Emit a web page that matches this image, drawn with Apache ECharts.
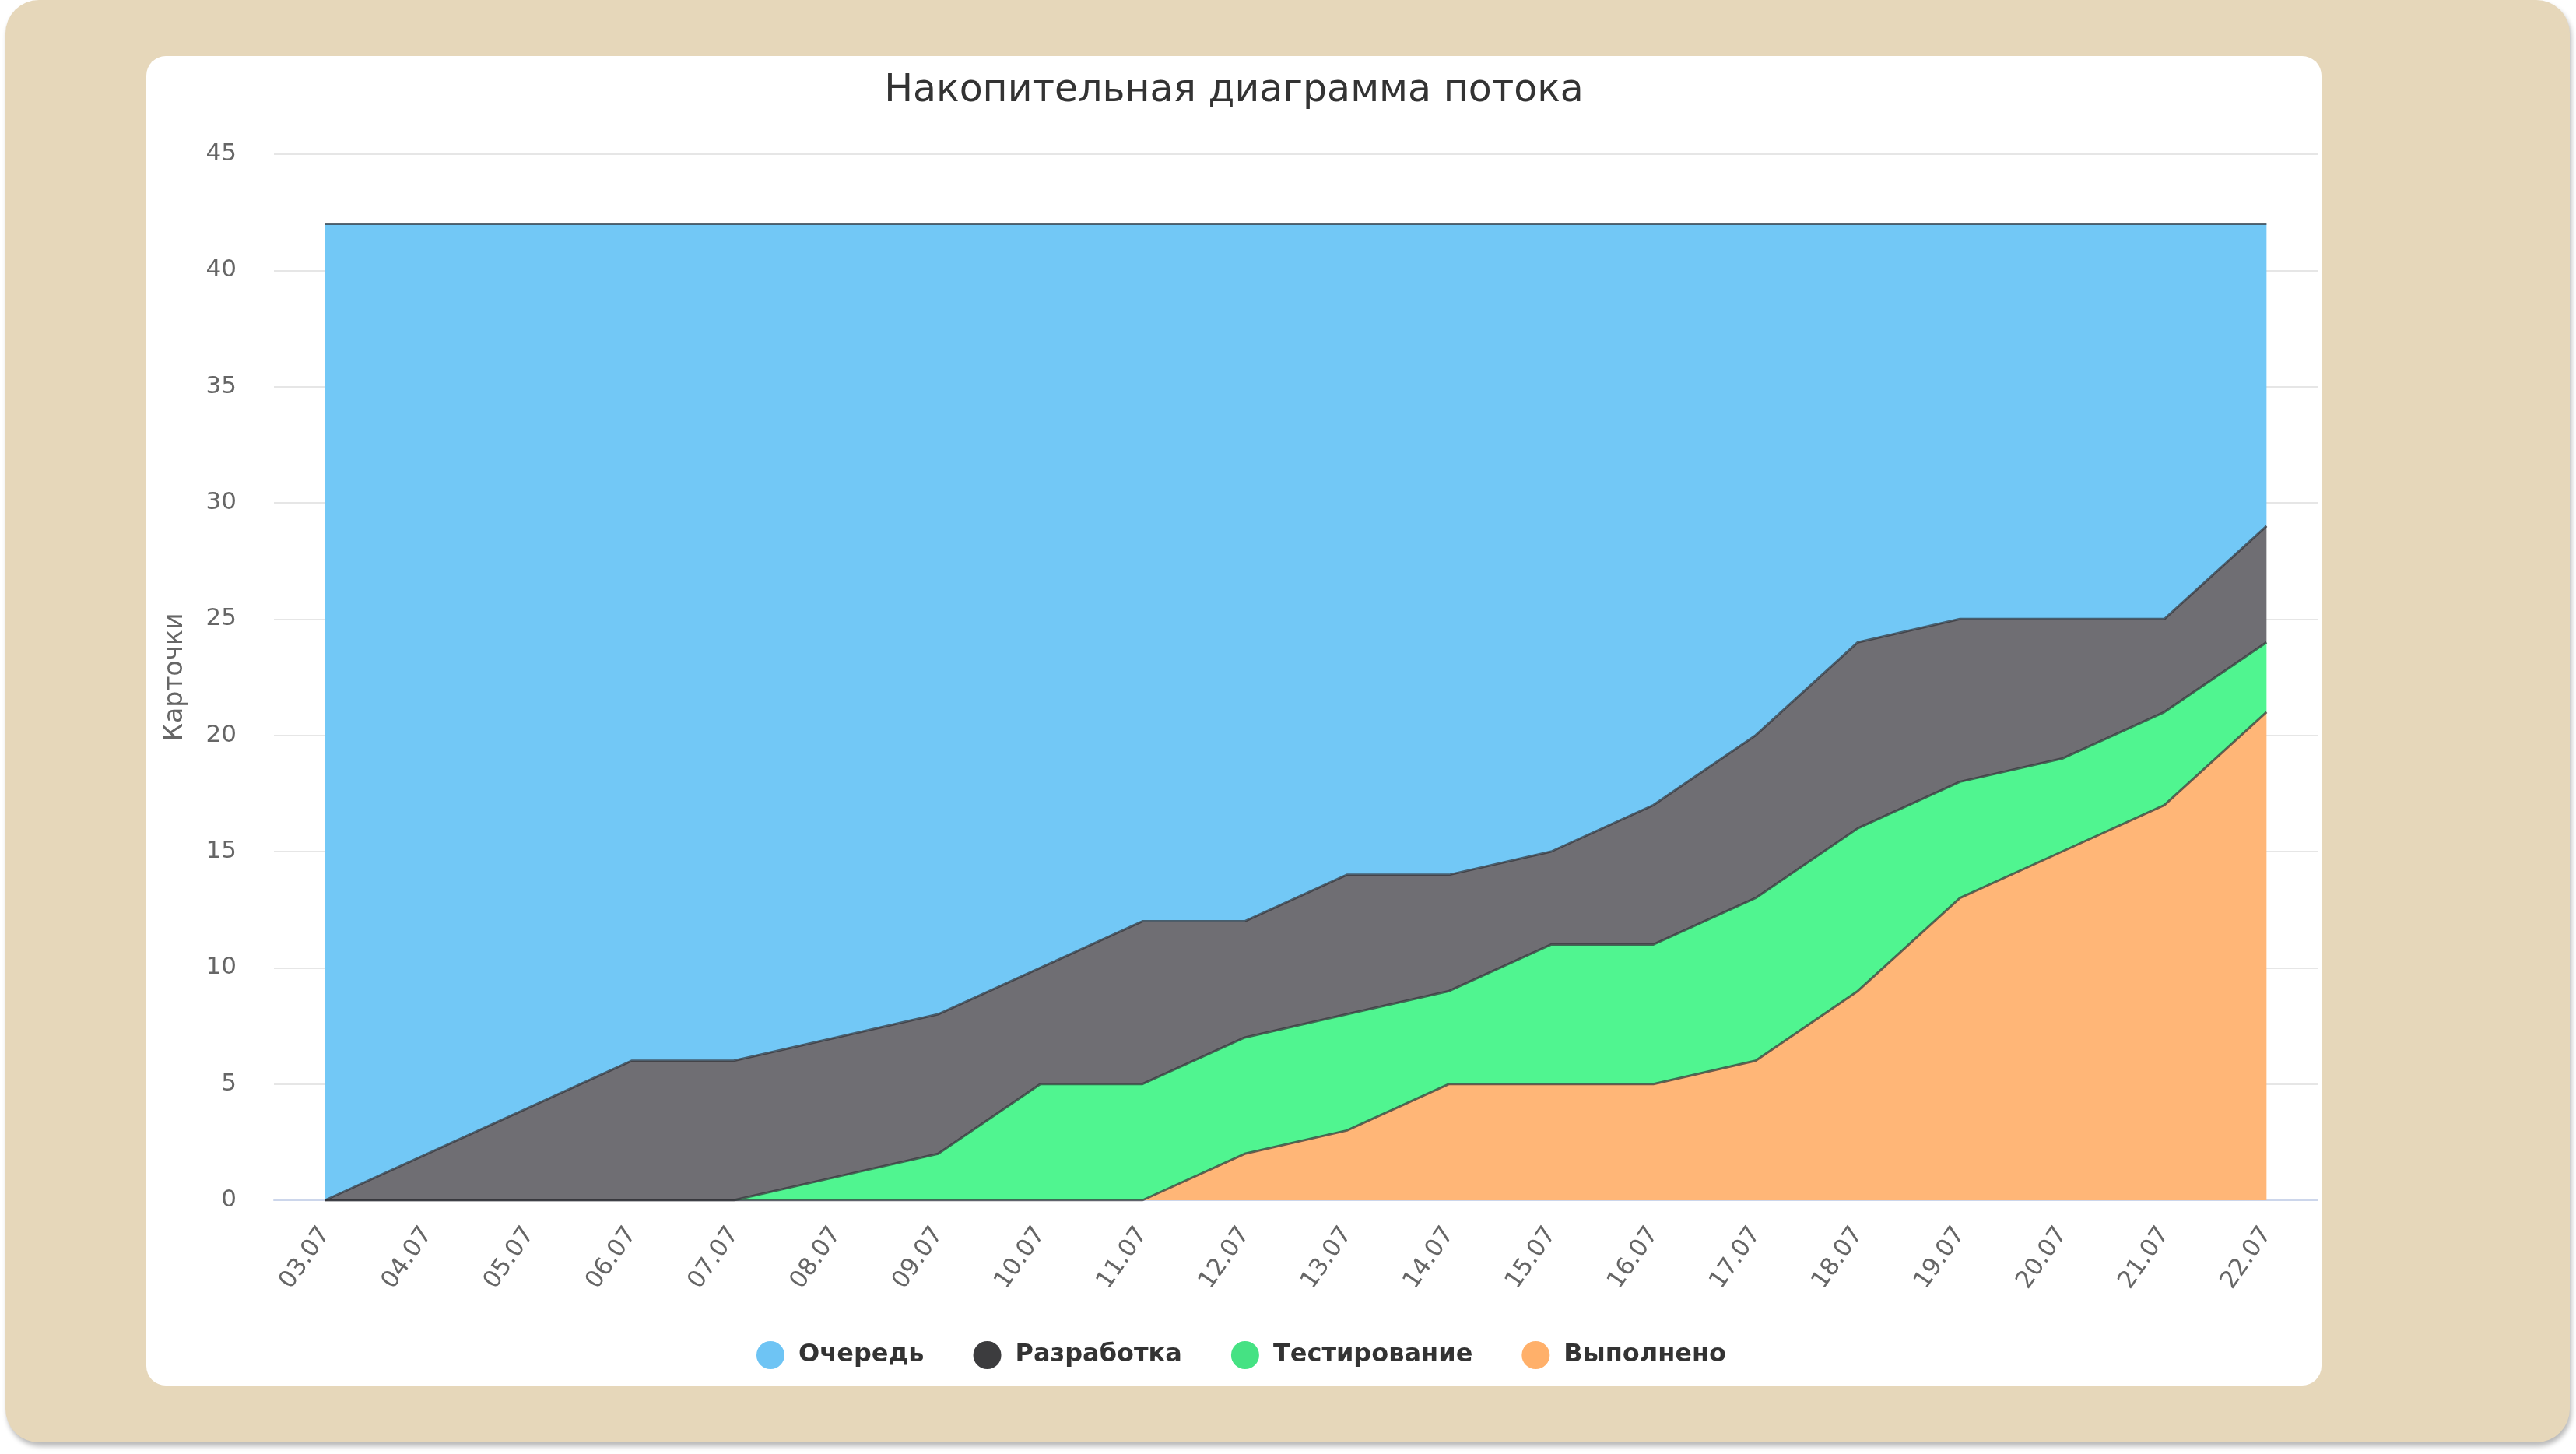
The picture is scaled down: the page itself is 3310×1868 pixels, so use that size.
<!DOCTYPE html>
<html>
<head>
<meta charset="utf-8">
<script src="https://cdn.jsdelivr.net/npm/echarts@6/dist/echarts.min.js"></script>
<style>
  html, body { margin: 0; padding: 0; background: #ffffff; width: 3310px; height: 1868px; overflow: hidden; }
  #outer { position: absolute; left: 7px; top: 0px; width: 3295px; height: 1853px; border-radius: 43px;
           background: #e6d7ba; box-shadow: 2px 5px 6px rgba(0,0,0,0.28); }
  #inner { position: absolute; left: 188px; top: 72px; width: 2795px; height: 1708px; border-radius: 25px; background: #ffffff; }
  #chart { position: absolute; left: 188px; top: 72px; width: 2795px; height: 1708px; }
</style>
</head>
<body>
<div id="outer"></div>
<div id="inner"></div>
<div id="chart"></div>
<script>
const categories = ['03.07','04.07','05.07','06.07','07.07','08.07','09.07','10.07','11.07','12.07',
                    '13.07','14.07','15.07','16.07','17.07','18.07','19.07','20.07','21.07','22.07'];
// per-stage counts (stacked: done at bottom, queue on top)
const done    = [0,0,0,0,0,0,0,0,0,2,3,5,5,5,6,9,13,15,17,21];
const testing = [0,0,0,0,0,1,2,5,5,5,5,4,6,6,7,7,5,4,4,3];
const dev     = [0,2,4,6,6,6,6,5,7,5,6,5,4,6,7,8,7,6,4,5];
const queue   = [42,40,38,36,36,35,34,32,30,30,28,28,27,25,22,18,17,17,17,13];
const seriesNames = ['Очередь','Разработка','Тестирование','Выполнено'];

const FONT = 'DejaVu Sans';
const lineStyle = { color: 'rgba(50,50,55,0.7)', width: 3 };

function mk(name, data, fill, legendColor) {
  return {
    name: name, type: 'line', stack: 'cfd', data: data,
    symbol: 'none', showSymbol: false, silent: true,
    itemStyle: { color: legendColor },
    lineStyle: lineStyle,
    areaStyle: { color: fill, opacity: 1 },
    emphasis: { disabled: true }
  };
}

const chart = echarts.init(document.getElementById('chart'), null, { renderer: 'canvas' });
chart.setOption({
  animation: false,
  backgroundColor: 'transparent',
  title: {
    text: 'Накопительная диаграмма потока',
    left: 'center', top: 16,
    textStyle: { fontFamily: FONT, fontSize: 49, fontWeight: 'normal', color: '#333333' }
  },
  legend: {
    data: [
      { name: seriesNames[0], itemStyle: { color: '#6ec4f4' } },
      { name: seriesNames[1], itemStyle: { color: '#3c3c3e' } },
      { name: seriesNames[2], itemStyle: { color: '#45e283' } },
      { name: seriesNames[3], itemStyle: { color: '#ffb06a' } }
    ],
    left: 779, top: 1646,
    icon: 'circle', itemWidth: 36, itemHeight: 36, itemGap: 63,
    itemStyle: { borderWidth: 0 },
    textStyle: { fontFamily: FONT, fontSize: 32, fontWeight: 'bold', color: '#333333', padding: [0,0,0,13] }
  },
  grid: { left: 164, right: 5, top: 126, bottom: 238, containLabel: false },
  xAxis: {
    type: 'category', data: categories, boundaryGap: true,
    axisLine: { lineStyle: { color: '#ccd6eb', width: 2 } },
    axisTick: { alignWithLabel: true, length: 27, lineStyle: { color: '#ccd6eb', width: 2 } },
    axisLabel: { rotate: 55, margin: 38, fontFamily: FONT, fontSize: 31, color: '#666666', interval: 0 },
    splitLine: { show: false }
  },
  yAxis: {
    type: 'value', min: 0, max: 45, interval: 5,
    name: 'Карточки', nameLocation: 'middle', nameGap: 110, nameRotate: 90,
    nameTextStyle: { fontFamily: FONT, fontSize: 33, color: '#666666' },
    axisLine: { show: false }, axisTick: { show: false },
    axisLabel: { margin: 48, fontFamily: FONT, fontSize: 31, color: '#666666', padding: [8,0,0,0] },
    splitLine: { lineStyle: { color: '#e6e6e6', width: 2 } }
  },
  series: [
    mk(seriesNames[3], done,    '#ffb677', '#ffb06a'),
    mk(seriesNames[2], testing, '#50f590', '#45e283'),
    mk(seriesNames[1], dev,     '#6f6e73', '#3c3c3e'),
    mk(seriesNames[0], queue,   '#72c8f6', '#6ec4f4')
  ]
});
</script>
</body>
</html>
